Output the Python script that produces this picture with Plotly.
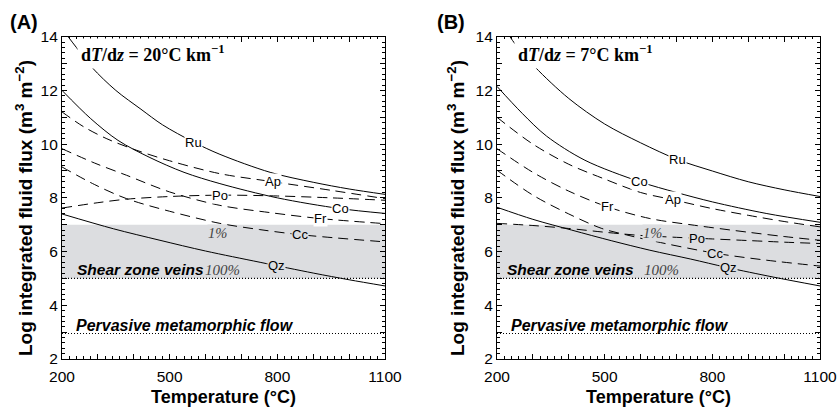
import plotly.graph_objects as go

W, H = 839, 410

# ---------------- data : panel A (dT/dz = 20 °C/km) ----------------
A_ru_T = [217, 240, 284, 350, 420, 480, 566, 640, 780, 900, 1000, 1100]
A_ru_v = [14.0, 13.6, 12.85, 12.0, 11.3, 10.72, 10.08, 9.62, 8.95, 8.58, 8.33, 8.13]
A_co_T = [200, 280, 356, 445, 540, 640, 800, 975, 1100]
A_co_v = [12.0, 10.95, 10.14, 9.5, 8.95, 8.53, 8.0, 7.6, 7.42]
A_ap_T = [200, 260, 325, 408, 500, 640, 788, 950, 1100]
A_ap_v = [11.2, 10.65, 10.2, 9.77, 9.38, 8.9, 8.6, 8.28, 7.97]
A_fr_T = [200, 290, 380, 500, 640, 780, 919, 1100]
A_fr_v = [9.83, 9.3, 8.84, 8.22, 7.72, 7.45, 7.23, 7.04]
A_cc_T = [200, 290, 380, 500, 640, 750, 863, 1100]
A_cc_v = [9.15, 8.5, 7.97, 7.5, 7.05, 6.82, 6.63, 6.36]
A_po_T = [200, 300, 380, 500, 640, 800, 950, 1100]
A_po_v = [7.62, 7.82, 7.95, 8.05, 8.1, 8.07, 8.0, 7.91]
A_qz_T = [200, 343, 473, 600, 752, 900, 1000, 1100]
A_qz_v = [7.4, 6.85, 6.42, 6.02, 5.6, 5.2, 4.95, 4.72]

# ---------------- data : panel B (dT/dz = 7 °C/km) ----------------
B_ru_T = [236, 250, 306, 400, 500, 600, 704, 800, 900, 1000, 1100]
B_ru_v = [14.0, 13.74, 12.87, 11.7, 10.75, 10.05, 9.42, 9.0, 8.6, 8.3, 8.05]
B_co_T = [200, 270, 338, 445, 598, 700, 800, 950, 1100]
B_co_v = [12.15, 11.15, 10.3, 9.4, 8.6, 8.2, 7.85, 7.42, 7.09]
B_ap_T = [200, 300, 400, 500, 600, 690, 800, 900, 1000, 1100]
B_ap_v = [11.0, 10.0, 9.25, 8.7, 8.2, 7.93, 7.6, 7.35, 7.12, 6.92]
B_fr_T = [200, 300, 400, 509, 626, 750, 900, 1000, 1100]
B_fr_v = [9.83, 8.95, 8.25, 7.66, 7.23, 6.98, 6.72, 6.56, 6.42]
B_cc_T = [200, 300, 400, 492, 561, 626, 807, 950, 1100]
B_cc_v = [9.03, 8.1, 7.4, 6.86, 6.62, 6.42, 5.94, 5.68, 5.46]
B_po_T = [200, 300, 400, 500, 600, 700, 800, 900, 1000, 1100]
B_po_v = [7.05, 6.97, 6.86, 6.72, 6.6, 6.53, 6.47, 6.41, 6.35, 6.3]
B_qz_T = [200, 300, 408, 520, 626, 740, 840, 970, 1100]
B_qz_v = [7.65, 7.2, 6.8, 6.4, 6.05, 5.72, 5.41, 5.05, 4.72]

# curve labels: (text, T, value, inside band?)
A_labels = [("Ru", 566, 10.07, False), ("Ap", 788, 8.6, False), ("Po", 640, 8.1, False),
            ("Co", 975, 7.6, False), ("Fr", 919, 7.23, False), ("Cc", 863, 6.63, True),
            ("Qz", 799, 5.5, True)]
B_labels = [("Ru", 704, 9.42, False), ("Co", 598, 8.6, False), ("Ap", 690, 7.93, False),
            ("Fr", 509, 7.66, False), ("Po", 757, 6.5, True), ("Cc", 807, 5.94, True),
            ("Qz", 845, 5.4, True)]

x_ticks = [200, 300, 400, 500, 600, 700, 800, 900, 1000, 1100]
x_ticktext = ["200", "", "", "500", "", "", "800", "", "", "1100"]
y_ticks = [2, 3, 4, 5, 6, 7, 8, 9, 10, 11, 12, 13, 14]
y_ticktext = ["2", "", "4", "", "6", "", "8", "", "10", "", "12", "", "14"]

band_low, band_high = 5, 7
pervasive_level = 2.95

BAND = "#dcdde0"
SANS = "Liberation Sans, Arial, sans-serif"
SERIF = "Liberation Serif, Times New Roman, serif"
DASH = "10px,6px"

fig = go.Figure()

def add_curve(T, v, dashed, xa, ya):
    fig.add_trace(go.Scatter(
        x=T, y=v, mode="lines", xaxis=xa, yaxis=ya, hoverinfo="skip", showlegend=False,
        line=dict(color="black", width=1, dash=DASH if dashed else "solid",
                  shape="spline", smoothing=0.9)))

for T, v, d in [(A_ru_T, A_ru_v, False), (A_co_T, A_co_v, False), (A_ap_T, A_ap_v, True),
                (A_fr_T, A_fr_v, True), (A_cc_T, A_cc_v, True), (A_po_T, A_po_v, True),
                (A_qz_T, A_qz_v, False)]:
    add_curve(T, v, d, "x", "y")
for T, v, d in [(B_ru_T, B_ru_v, False), (B_co_T, B_co_v, False), (B_ap_T, B_ap_v, True),
                (B_fr_T, B_fr_v, True), (B_cc_T, B_cc_v, True), (B_po_T, B_po_v, True),
                (B_qz_T, B_qz_v, False)]:
    add_curve(T, v, d, "x2", "y2")

ydom = [1 - 359 / H, 1 - 36.7 / H]
xdomA = [62 / W, 385 / W]
xdomB = [497 / W, 820 / W]

def xaxis(dom, anchor):
    return dict(domain=dom, anchor=anchor, range=[200, 1100], tickmode="array",
                tickvals=x_ticks, ticktext=x_ticktext, ticks="inside", ticklen=5,
                tickwidth=1, tickcolor="black", showline=True, linecolor="black",
                linewidth=1.2, mirror="ticks", showgrid=False, zeroline=False,
                automargin=False, ticklabelstandoff=3,
                tickfont=dict(family=SANS, size=15.5, color="black"),
                minor=dict(tick0=200, dtick=20, ticks="inside", ticklen=2.5,
                           tickcolor="black", tickwidth=1, showgrid=False),
                fixedrange=True)

def yaxis(anchor):
    return dict(domain=ydom, anchor=anchor, range=[2, 14], tickmode="array",
                tickvals=y_ticks, ticktext=y_ticktext, ticks="inside", ticklen=5,
                tickwidth=1, tickcolor="black", showline=True, linecolor="black",
                linewidth=1.2, mirror="ticks", showgrid=False, zeroline=False,
                automargin=False,
                tickfont=dict(family=SANS, size=15.5, color="black"),
                minor=dict(tick0=2, dtick=0.2, ticks="inside", ticklen=2.5,
                           tickcolor="black", tickwidth=1, showgrid=False),
                fixedrange=True)

shapes = []
for xr, yr in [("x", "y"), ("x2", "y2")]:
    shapes.append(dict(type="rect", xref=xr, yref=yr, x0=200, x1=1100, y0=band_low,
                       y1=band_high, fillcolor=BAND, line=dict(width=0), layer="below"))
    for lvl in (band_low, pervasive_level):
        shapes.append(dict(type="line", xref=xr, yref=yr, x0=200, x1=1100, y0=lvl, y1=lvl,
                           line=dict(color="black", width=1.2, dash="1px,2px"), layer="above"))

ann = []
for labels, xr, yr in [(A_labels, "x", "y"), (B_labels, "x2", "y2")]:
    for txt, t, v, inband in labels:
        ann.append(dict(text=txt, x=t, y=v, xref=xr, yref=yr, showarrow=False,
                        font=dict(family=SANS, size=13, color="black"),
                        bgcolor=BAND if inband else "white", borderpad=0,
                        xanchor="center", yanchor="middle"))

for sx, px_, yr in [(75, 74, "y"), (505, 509, "y2")]:
    ann.append(dict(text="<b><i>Shear zone veins</i></b>", x=sx / W, y=5.33, xref="paper",
                    yref=yr, showarrow=False, font=dict(family=SANS, size=15.5, color="black"),
                    xanchor="left", yanchor="middle"))
    ann.append(dict(text="<b><i>Pervasive metamorphic flow</i></b>", x=px_ / W, y=3.26,
                    xref="paper", yref=yr, showarrow=False,
                    font=dict(family=SANS, size=16, color="black"),
                    xanchor="left", yanchor="middle"))

for xr, yr, x100 in [("x", "y", 593), ("x2", "y2", 604)]:
    ann.append(dict(text="<i>100%</i>", x=x100, y=5.33, xref=xr, yref=yr, showarrow=False,
                    font=dict(family=SERIF, size=15, color="#444"), xanchor="left",
                    yanchor="middle"))
    ann.append(dict(text="<i>1%</i>", x=632, y=6.7, xref=xr, yref=yr, showarrow=False,
                    font=dict(family=SERIF, size=14.5, color="#444"), xanchor="center",
                    yanchor="middle", bgcolor=BAND, borderpad=0))

ann.append(dict(text="<b>d<i>T</i>/d<i>z</i> = 20°C km<sup>−1</sup></b>", x=241, y=13.38,
                xref="x", yref="y", showarrow=False, xanchor="left", yanchor="middle",
                font=dict(family=SERIF, size=18, color="black"), bgcolor="white", borderpad=3))
ann.append(dict(text="<b>d<i>T</i>/d<i>z</i> = 7°C km<sup>−1</sup></b>", x=247, y=13.38,
                xref="x2", yref="y2", showarrow=False, xanchor="left", yanchor="middle",
                font=dict(family=SERIF, size=18, color="black"), bgcolor="white", borderpad=3))

for lab, px in [("(A)", 8), ("(B)", 435)]:
    ann.append(dict(text="<b>%s</b>" % lab, x=px / W, y=1 - 22 / H, xref="paper", yref="paper",
                    showarrow=False, xanchor="left", yanchor="middle",
                    font=dict(family=SANS, size=20, color="black")))

for cx, ty in [(223.5, 24), (658.5, 456)]:
    ann.append(dict(text="<b>Temperature (°C)</b>", x=cx / W, y=1 - 397 / H, xref="paper",
                    yref="paper", showarrow=False, xanchor="center", yanchor="middle",
                    font=dict(family=SANS, size=18, color="black")))
    ann.append(dict(text="<b>Log integrated fluid flux (m<sup>3</sup> m<sup>−2</sup>)</b>",
                    x=ty / W, y=1 - 208 / H, xref="paper", yref="paper", textangle=-90,
                    showarrow=False, xanchor="center", yanchor="middle",
                    font=dict(family=SANS, size=19, color="black")))

fig.update_layout(
    width=W, height=H, margin=dict(l=0, r=0, t=0, b=0, autoexpand=False),
    paper_bgcolor="white", plot_bgcolor="white", showlegend=False,
    xaxis=xaxis(xdomA, "y"), yaxis=yaxis("x"),
    xaxis2=xaxis(xdomB, "y2"), yaxis2=yaxis("x2"),
    shapes=shapes, annotations=ann,
)

fig.write_html("out.html")
